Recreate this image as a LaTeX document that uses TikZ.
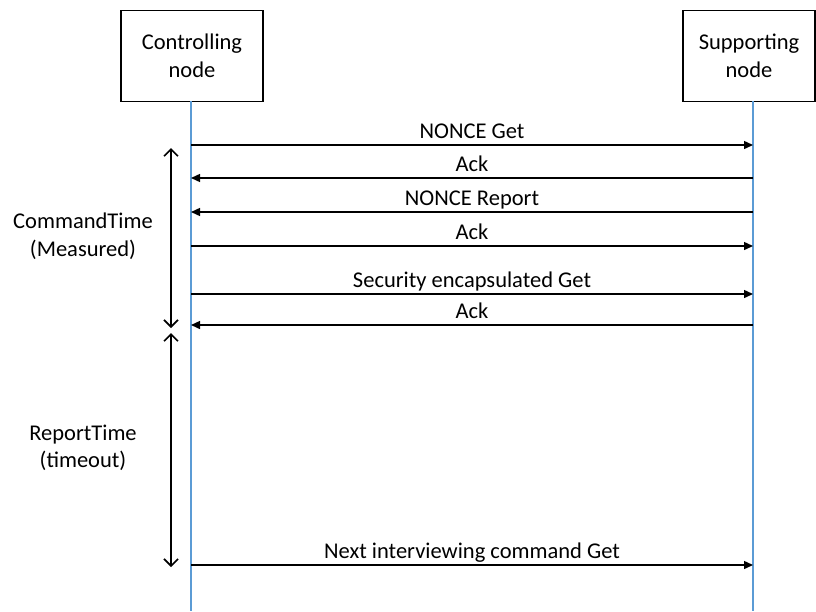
\documentclass[tikz,border=0pt]{standalone}
\usepackage{fontspec}
\setmainfont{Carlito}
\usetikzlibrary{arrows.meta}
\definecolor{lifeblue}{RGB}{91,155,213}

\begin{document}
\begin{tikzpicture}[x=1pt, y=-1pt, font=\fontsize{22.5}{27.5}\selectfont,
    actor/.style={draw, line width=1.6pt, minimum height=91pt, align=center, inner sep=0pt},
    lifeline/.style={lifeblue, line width=1.6pt},
    msg/.style={-{Triangle[length=9pt, width=8pt]}, line width=1.4pt},
    span/.style={{Straight Barb[length=7pt, width=14pt]}-{Straight Barb[length=7pt, width=14pt]}, line width=1.6pt}]
  \useasboundingbox (0,0) rectangle (816,611);

  \node[actor, minimum width=142pt] (ctrl) at (192,56) {Controlling\\node};
  \node[actor, minimum width=132pt] (supp) at (749,56) {Supporting\\node};

  \coordinate (ctrlend) at (191,611);
  \coordinate (suppend) at (753,611);
  \draw[lifeline] (191,101) coordinate (ctrltop) -- (ctrlend);
  \draw[lifeline] (753,101) coordinate (supptop) -- (suppend);

  % messages controlling -> supporting
  \foreach \y/\txt in {145/NONCE Get, 246/Ack, 294/Security encapsulated Get, 565/Next interviewing command Get} {
      \coordinate (c\y) at (191,\y);
      \coordinate (s\y) at (753,\y);
      \draw[msg] (c\y) -- (s\y) node[midway, anchor=base, yshift=7pt] {\txt};
  }
  % messages supporting -> controlling
  \foreach \y/\txt in {178/Ack, 212/NONCE Report, 325/Ack} {
      \coordinate (c\y) at (191,\y);
      \coordinate (s\y) at (753,\y);
      \draw[msg] (s\y) -- (c\y) node[midway, anchor=base, yshift=7pt] {\txt};
  }

  % time spans
  \coordinate (cmdtop) at (171,148);
  \coordinate (cmdbot) at (171,328);
  \coordinate (reptop) at (171,333);
  \coordinate (repbot) at (171,567);
  \draw[span] (cmdtop) -- (cmdbot);
  \draw[span] (reptop) -- (repbot);
  \node[align=center] (cmdlbl) at (83,236) {CommandTime\\(Measured)};
  \node[align=center] (replbl) at (83,448) {ReportTime\\(timeout)};
\end{tikzpicture}
\end{document}
